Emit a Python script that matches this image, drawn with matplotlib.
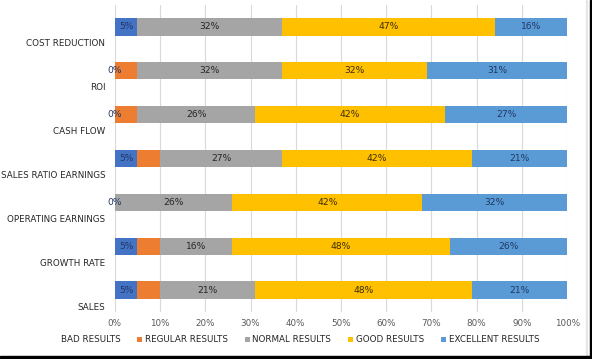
import numpy as np
import matplotlib
matplotlib.use('Agg')
import matplotlib.pyplot as plt
from matplotlib.patches import Patch, Rectangle

# categories top to bottom, values in percent
categories = ['COST REDUCTION', 'ROI', 'CASH FLOW', 'SALES RATIO EARNINGS',
              'OPERATING EARNINGS', 'GROWTH RATE', 'SALES']
bad = [5, 0, 0, 5, 0, 5, 5]
regular = [0, 5, 5, 5, 0, 5, 5]
normal = [32, 32, 26, 27, 26, 16, 21]
good = [47, 32, 42, 42, 42, 48, 48]
excellent = [16, 31, 27, 21, 32, 26, 21]
series_names = ['BAD RESULTS', 'REGULAR RESULTS', 'NORMAL RESULTS', 'GOOD RESULTS', 'EXCELLENT RESULTS']

colors = ['#4472C4', '#ED7D31', '#A5A5A5', '#FFC000', '#5B9BD5']
label_colors = ['#203864', None, '#262626', '#3B2C00', '#1F3864']
series = [bad, regular, normal, good, excellent]

fs = 6.3
plt.rcParams['font.family'] = 'DejaVu Sans'
fig = plt.figure(figsize=(5.92, 3.59), dpi=100)
ax = fig.add_axes([0.194, 0.131, 0.764, 0.855])

y = np.arange(len(categories))
left = np.zeros(len(categories))
for vals, col, lc in zip(series, colors, label_colors):
    vals = np.array(vals, dtype=float)
    ax.barh(y, vals, left=left, height=0.39, color=col, zorder=2)
    #the orange series has no data labels in the original
    if lc is not None:
        for yi, l, v in zip(y, left, vals):
            ax.text(l + v / 2, yi, f'{int(v)}%', ha='center', va='center',
                    fontsize=fs + 0.3, color=lc, zorder=3)
    left += vals

ax.set_xlim(0, 100)
ax.set_ylim(len(categories) - 0.5, -0.5)
ax.set_xticks(np.arange(0, 101, 10))
ax.set_xticklabels([f'{t}%' for t in range(0, 101, 10)], fontsize=fs, color='#595959')
#category labels sit below each bar
ax.set_yticks(y + 0.365)
ax.set_yticklabels(categories, fontsize=fs, color='#262626')
ax.tick_params(axis='both', length=0)
ax.tick_params(axis='y', pad=7)
ax.tick_params(axis='x', pad=5)
ax.grid(True, axis='x', color='#D9D9D9', linewidth=0.8, zorder=0)
for s in ax.spines.values():
    s.set_visible(False)

handles = [Patch(facecolor='none', edgecolor='none')] + [Patch(facecolor=c) for c in colors[1:]]
fig.legend(handles, series_names, loc='center', bbox_to_anchor=(0.5, 0.053), ncol=5,
           frameon=False, fontsize=fs, handlelength=0.6, handleheight=0.6,
           columnspacing=1.9, handletextpad=0.3, labelcolor='#262626')

#screenshot frame
fig.patches.append(Rectangle((586 / 592, 0), 0.002, 1, transform=fig.transFigure,
                             color='#E6E6E6', zorder=5))
fig.patches.append(Rectangle((590 / 592, 0), 2 / 592, 1, transform=fig.transFigure,
                             color='black', zorder=6))
fig.patches.append(Rectangle((0, 0), 1, 3 / 359, transform=fig.transFigure,
                             color='black', zorder=6))

fig.savefig('out.png', dpi=100)
